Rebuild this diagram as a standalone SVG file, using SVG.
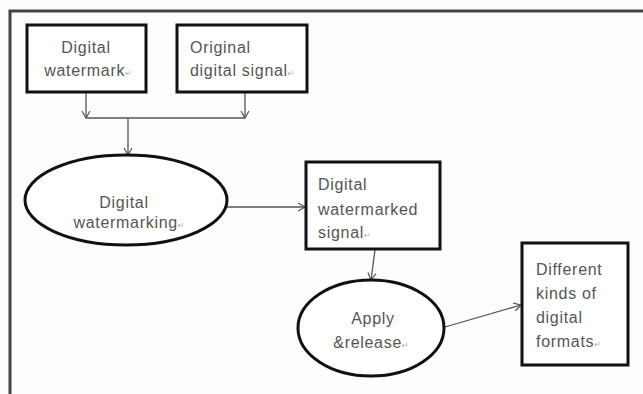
<svg xmlns="http://www.w3.org/2000/svg" width="643" height="394" viewBox="0 0 643 394">
<defs>
<marker id="arr" markerWidth="10" markerHeight="10" refX="8" refY="5" orient="auto" markerUnits="userSpaceOnUse">
<polyline points="1,1 8,5 1,9" fill="none" stroke="#555" stroke-width="1.2"/>
</marker>
<style>
.box{fill:#fff;stroke:#111;stroke-width:3}
.ell{fill:#fff;stroke:#111;stroke-width:3}
.t{font-family:"Liberation Sans",Arial,sans-serif;font-size:16px;fill:#555;letter-spacing:0.7px}
.c{text-anchor:middle}
.rm{font-family:"DejaVu Sans",sans-serif;font-size:8px;fill:#aaa;letter-spacing:0}
.ln{fill:none;stroke:#555;stroke-width:1.3}
.frame{fill:none;stroke:#444;stroke-width:3}
</style>
</defs>
<rect width="643" height="394" fill="#fdfdfd"/>
<path class="frame" d="M10,394 V11 H643"/>

<g id="connectors">
<line class="ln" x1="86" y1="92" x2="86" y2="118" marker-end="url(#arr)"/>
<line class="ln" x1="245" y1="92" x2="245" y2="118" marker-end="url(#arr)"/>
<line class="ln" x1="86" y1="118" x2="245" y2="118"/>
<line class="ln" x1="128" y1="118" x2="128" y2="155" marker-end="url(#arr)"/>
<line class="ln" x1="227" y1="207" x2="305" y2="207" marker-end="url(#arr)"/>
<line class="ln" x1="375" y1="250" x2="371" y2="280" marker-end="url(#arr)"/>
<line class="ln" x1="445" y1="327" x2="521" y2="305" marker-end="url(#arr)"/>
</g>

<g id="n1">
<rect class="box" x="27" y="25" width="119" height="67"/>
<text class="t c" x="86" y="53">Digital</text>
<text class="t c" x="88" y="76">watermark<tspan class="rm">↵</tspan></text>
</g>

<g id="n2">
<rect class="box" x="177" y="25" width="130" height="67"/>
<text class="t" x="190" y="53">Original</text>
<text class="t" x="190" y="76">digital signal<tspan class="rm">↵</tspan></text>
</g>

<g id="n3">
<ellipse class="ell" cx="126" cy="200" rx="101" ry="45"/>
<text class="t c" x="124" y="208">Digital</text>
<text class="t c" x="129" y="228">watermarking<tspan class="rm">↵</tspan></text>
</g>

<g id="n4">
<rect class="box" x="306" y="162" width="134" height="87"/>
<text class="t" x="318" y="190">Digital</text>
<text class="t" x="318" y="215">watermarked</text>
<text class="t" x="318" y="238">signal<tspan class="rm">↵</tspan></text>
</g>

<g id="n5">
<ellipse class="ell" cx="371" cy="328" rx="73" ry="48"/>
<text class="t c" x="373" y="324">Apply</text>
<text class="t c" x="371" y="348">&amp;release<tspan class="rm">↵</tspan></text>
</g>

<g id="n6">
<rect class="box" x="522" y="243" width="106" height="122"/>
<text class="t" x="536" y="275">Different</text>
<text class="t" x="536" y="299">kinds of</text>
<text class="t" x="536" y="323">digital</text>
<text class="t" x="536" y="347">formats<tspan class="rm">↵</tspan></text>
</g>
</svg>
